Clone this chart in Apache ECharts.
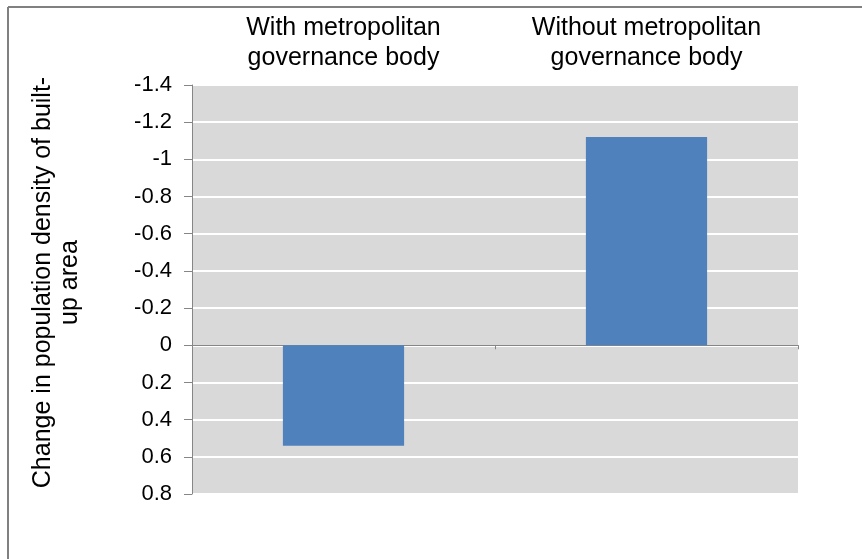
<!DOCTYPE html>
<html>
<head>
<meta charset="utf-8">
<style>
  html, body { margin: 0; padding: 0; background: #ffffff; }
  #chart { width: 862px; height: 559px; }
</style>
<script src="https://cdn.jsdelivr.net/npm/echarts@6/dist/echarts.min.js"></script>
</head>
<body>
<div id="chart"></div>
<script>
// Categories and values (change in population density of built-up area)
const categories = ['With metropolitan\ngovernance body', 'Without metropolitan\ngovernance body'];
const densityChange = [0.54, -1.12];
const yAxisTitle = 'Change in population density of built-\nup area';

const FONT = '"Liberation Sans", Arial, sans-serif';

const chart = echarts.init(document.getElementById('chart'), null, { renderer: 'canvas' });

function fmtTick(v) {
  const r = Math.round(v * 10) / 10;
  return (r === 0 ? 0 : r).toString();
}

chart.setOption({
  animation: false,
  backgroundColor: '#ffffff',
  textStyle: { fontFamily: FONT },
  grid: {
    left: 192, top: 85, right: 64, bottom: 65,
    outerBoundsMode: 'none',
    containLabel: false,
    show: true, backgroundColor: '#d9d9d9', borderWidth: 0
  },
  graphic: [
    { type: 'line', shape: { x1: 8, y1: 7, x2: 862, y2: 7 }, style: { stroke: '#808080', lineWidth: 2 } },
    { type: 'line', shape: { x1: 8, y1: 7, x2: 8, y2: 559 }, style: { stroke: '#808080', lineWidth: 2 } }
  ],
  xAxis: [
    {
      // category labels shown above the plot
      type: 'category',
      data: categories,
      position: 'top',
      axisLine: { show: false, onZero: false },
      axisTick: { show: false },
      axisLabel: {
        color: '#000000', fontSize: 25, fontFamily: FONT,
        lineHeight: 30, margin: 12
      }
    },
    {
      // horizontal axis line drawn at zero
      type: 'category',
      data: categories,
      position: 'bottom',
      axisLine: { show: true, onZero: true, lineStyle: { color: '#868686', width: 1 } },
      axisTick: { show: true, length: 4, lineStyle: { color: '#868686' } },
      axisLabel: { show: false }
    }
  ],
  yAxis: {
    type: 'value',
    inverse: true,
    min: -1.4,
    max: 0.8,
    interval: 0.2,
    name: yAxisTitle,
    nameLocation: 'middle',
    nameGap: 108,
    nameRotate: 90,
    nameTextStyle: {
      color: '#000000', fontSize: 25, fontFamily: FONT, lineHeight: 27,
      padding: [0, 0, 0, 14]
    },
    axisLine: { show: true, lineStyle: { color: '#868686', width: 1 } },
    axisTick: { show: true, length: 8, lineStyle: { color: '#868686' } },
    axisLabel: { color: '#000000', fontSize: 22, fontFamily: FONT, margin: 20, formatter: fmtTick },
    splitLine: { show: true, lineStyle: { color: '#ffffff', width: 2 } }
  },
  series: [{
    type: 'bar',
    xAxisIndex: 0,
    data: densityChange,
    barWidth: '40%',
    itemStyle: { color: '#4f81bd' }
  }]
});
</script>
</body>
</html>
